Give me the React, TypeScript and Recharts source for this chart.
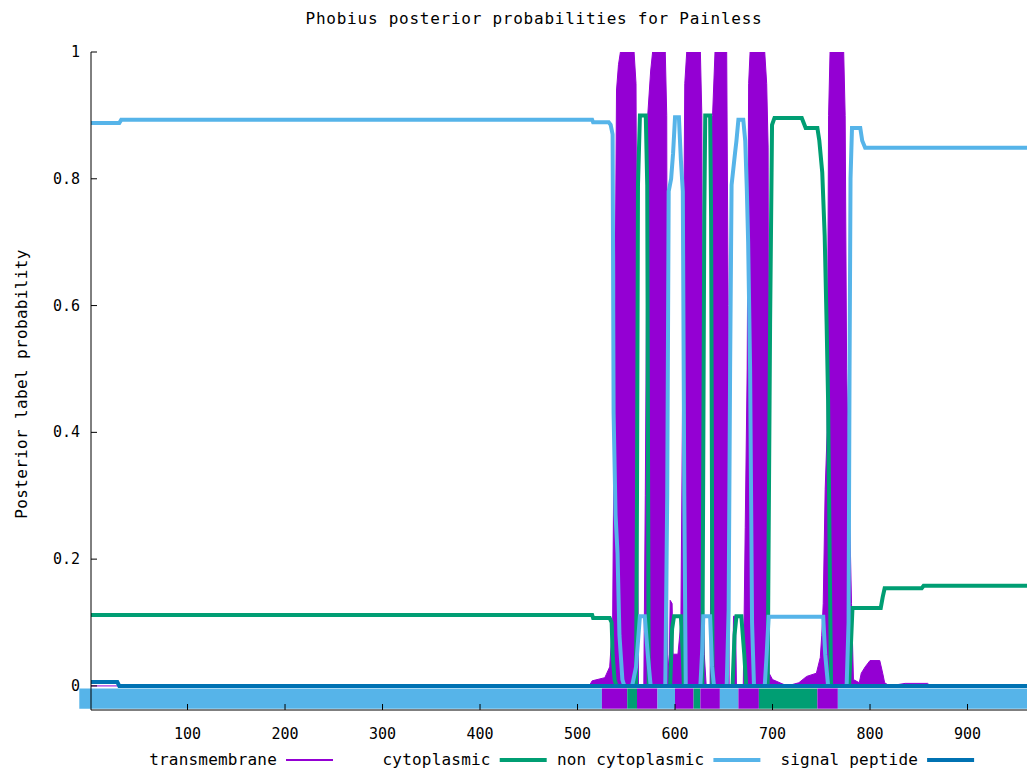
import React from 'react';
import { ComposedChart, Area, Line, XAxis, YAxis, ReferenceArea } from 'recharts';

type Pt = { x: number; y: number };
const p = (x: number, y: number): Pt => ({ x, y });

const seqLength = 961;
const xTicks = [100, 200, 300, 400, 500, 600, 700, 800, 900];
const yTicks = [0, 0.2, 0.4, 0.6, 0.8, 1];

// posterior probabilities, as (residue, probability)
const transmembrane: Pt[] = [
  p(1, 0), p(512, 0), p(515, 0.008), p(528, 0.013), p(533, 0.03), p(536, 0.1), p(538, 0.5), p(540, 0.94),
  p(542, 0.98), p(544, 1), p(558, 1), p(560, 0.95), p(561.5, 0.3), p(562.5, 0), p(568, 0), p(569.5, 0.3),
  p(572, 0.9), p(575, 0.97), p(577, 1), p(590, 1), p(591.5, 0.9), p(592.5, 0.05), p(594, 0.02), p(595, 0.135),
  p(597, 0.13), p(598, 0.05), p(603, 0.05), p(606, 0.1), p(608, 0.5), p(610, 0.95), p(612, 1), p(626, 1),
  p(627.5, 0.9), p(628.5, 0.2), p(630, 0.05), p(632, 0), p(636, 0), p(637.5, 0.5), p(638.5, 0.9), p(641, 1),
  p(653, 1), p(654.5, 0.6), p(655.5, 0), p(659, 0), p(660, 0.11), p(662, 0.11), p(663, 0), p(670, 0),
  p(672, 0.25), p(674, 0.5), p(675.5, 0.95), p(677, 1), p(692, 1), p(694, 0.95), p(695.5, 0.85), p(696.5, 0.02),
  p(700, 0.01), p(715, 0), p(727, 0.005), p(735, 0.015), p(745, 0.02), p(749, 0.045), p(750.5, 0.08),
  p(752, 0.13), p(754, 0.31), p(756, 0.4), p(757.5, 0.9), p(759, 1), p(773, 1), p(774.5, 0.9), p(776, 0.5),
  p(778, 0.35), p(781, 0.13), p(783, 0.01), p(789, 0.005), p(791, 0.02), p(795, 0.03), p(800, 0.04),
  p(810, 0.04), p(813, 0.02), p(815, 0.005), p(820, 0), p(836, 0.004), p(859, 0.004), p(862, 0), p(961, 0),
];

const cytoplasmic: Pt[] = [
  p(1, 0.112), p(515, 0.112), p(516, 0.107), p(533, 0.107), p(535, 0.1), p(536, 0.05), p(538, 0.01), p(540, 0),
  p(560, 0), p(561, 0.3), p(562, 0.79), p(564, 0.9), p(570, 0.9), p(571.5, 0.79), p(573, 0), p(595, 0),
  p(597, 0.09), p(599, 0.11), p(606, 0.11), p(608, 0.05), p(609, 0), p(628, 0), p(630, 0.74), p(631, 0.9),
  p(636, 0.9), p(637, 0.74), p(638.5, 0), p(659, 0), p(661, 0.08), p(663, 0.11), p(668, 0.11), p(671, 0.05),
  p(673, 0), p(695, 0), p(697.5, 0.57), p(699.5, 0.885), p(702, 0.896), p(730, 0.896), p(734, 0.88),
  p(746, 0.88), p(748, 0.86), p(751, 0.81), p(753.5, 0.71), p(755.5, 0.57), p(757, 0.45), p(760, 0),
  p(778.5, 0), p(780, 0.05), p(782, 0.123), p(811, 0.123), p(813, 0.14), p(815, 0.154), p(853, 0.154),
  p(855, 0.158), p(961, 0.158),
];

const nonCytoplasmic: Pt[] = [
  p(1, 0.888), p(30, 0.888), p(32, 0.893), p(515, 0.893), p(516, 0.889), p(532, 0.889), p(534, 0.885),
  p(536, 0.87), p(537, 0.43), p(539, 0.27), p(541, 0.21), p(543, 0.08), p(546, 0.01), p(548, 0), p(556, 0),
  p(560, 0.03), p(562, 0.07), p(564, 0.11), p(569, 0.11), p(572, 0.05), p(575, 0), p(590, 0), p(592, 0.3),
  p(593.5, 0.78), p(596, 0.8), p(598, 0.84), p(600, 0.897), p(604, 0.897), p(606, 0.83), p(608, 0.78),
  p(609.5, 0.3), p(611, 0), p(626, 0), p(628, 0.06), p(629, 0.11), p(636, 0.11), p(638, 0.03), p(640, 0),
  p(653, 0), p(655, 0.12), p(656.5, 0.5), p(658, 0.79), p(661.5, 0.84), p(663, 0.86), p(665, 0.893),
  p(670, 0.893), p(672, 0.86), p(673.6, 0.785), p(675, 0.7), p(677, 0.5), p(679, 0.1), p(681, 0), p(692, 0),
  p(694, 0.05), p(696, 0.109), p(752, 0.109), p(754, 0.05), p(757, 0), p(776, 0), p(778, 0.1), p(779, 0.5),
  p(780, 0.8), p(781.5, 0.88), p(790, 0.88), p(792, 0.86), p(795, 0.849), p(961, 0.849),
];

const signalPeptide: Pt[] = [p(1, 0.006), p(28, 0.006), p(30, 0), p(961, 0)];

// predicted topology strip under the curves
const topology = [
  { from: -11, to: 525, kind: 'non' },
  { from: 525, to: 551, kind: 'tm' },
  { from: 551, to: 561, kind: 'cyto' },
  { from: 561, to: 582, kind: 'tm' },
  { from: 582, to: 600, kind: 'non' },
  { from: 600, to: 619, kind: 'tm' },
  { from: 619, to: 626, kind: 'cyto' },
  { from: 626, to: 646, kind: 'tm' },
  { from: 646, to: 665, kind: 'non' },
  { from: 665, to: 686, kind: 'tm' },
  { from: 686, to: 746, kind: 'cyto' },
  { from: 746, to: 767, kind: 'tm' },
  { from: 767, to: 961, kind: 'non' },
];

const colors: Record<string, string> = {
  tm: '#9400d3',
  cyto: '#009e73',
  non: '#56b4e9',
  sp: '#0072b2',
};

const legendItems = [
  { label: 'transmembrane', color: colors.tm, width: 2 },
  { label: 'cytoplasmic', color: colors.cyto, width: 4 },
  { label: 'non cytoplasmic', color: colors.non, width: 4 },
  { label: 'signal peptide', color: colors.sp, width: 4 },
];

const FONT = "'DejaVu Sans Mono', monospace";

const BottomTick = (props: any) => {
  const { x, y, payload } = props;
  return (
    <g>
      <line x1={x} y1={y} x2={x} y2={y - 6} stroke="#000" />
      <text x={x} y={y + 29} textAnchor="middle" fontFamily={FONT} fontSize={15} fill="#000">
        {payload.value}
      </text>
    </g>
  );
};

const TopTick = (props: any) => {
  const { x, y } = props;
  return <line x1={x} y1={y} x2={x} y2={y + 6} stroke="#000" />;
};

const LeftTick = (props: any) => {
  const { x, y, payload } = props;
  return (
    <g>
      <line x1={x} y1={y} x2={x + 6} y2={y} stroke="#000" />
      <text x={x - 11} y={y + 5} textAnchor="end" fontFamily={FONT} fontSize={15} fill="#000">
        {payload.value}
      </text>
    </g>
  );
};

const RightTick = (props: any) => {
  const { x, y } = props;
  return <line x1={x} y1={y} x2={x - 6} y2={y} stroke="#000" />;
};

export default function App() {
  return (
    <div style={{ position: 'absolute', left: 0, top: 0, width: 1029, height: 771, background: '#fff' }}>
      <ComposedChart width={1029} height={771} margin={{ top: 52, right: 2, bottom: 31, left: 31 }}>
        <XAxis
          xAxisId="bottom"
          type="number"
          dataKey="x"
          domain={[1, seqLength]}
          ticks={xTicks}
          allowDataOverflow
          height={30}
          tickSize={0}
          tickMargin={0}
          axisLine={{ stroke: '#000' }}
          tickLine={false}
          tick={BottomTick}
        />
        <XAxis
          xAxisId="top"
          orientation="top"
          type="number"
          dataKey="x"
          domain={[1, seqLength]}
          ticks={xTicks}
          allowDataOverflow
          height={0}
          tickSize={0}
          tickMargin={0}
          axisLine={{ stroke: '#000' }}
          tickLine={false}
          tick={TopTick}
        />
        <YAxis
          yAxisId="left"
          type="number"
          domain={[-0.038, 1]}
          ticks={yTicks}
          allowDataOverflow
          width={60}
          tickSize={0}
          tickMargin={0}
          axisLine={{ stroke: '#000' }}
          tickLine={false}
          tick={LeftTick}
        />
        <YAxis
          yAxisId="right"
          orientation="right"
          type="number"
          domain={[-0.038, 1]}
          ticks={yTicks}
          allowDataOverflow
          width={0}
          tickSize={0}
          tickMargin={0}
          axisLine={{ stroke: '#000' }}
          tickLine={false}
          tick={RightTick}
        />
        <Area
          xAxisId="bottom"
          yAxisId="left"
          data={transmembrane}
          dataKey="y"
          type="linear"
          baseValue={0}
          stroke={colors.tm}
          strokeWidth={1}
          fill={colors.tm}
          fillOpacity={1}
          dot={false}
          activeDot={false}
          isAnimationActive={false}
        />
        <Line
          xAxisId="bottom"
          yAxisId="left"
          data={cytoplasmic}
          dataKey="y"
          type="linear"
          stroke={colors.cyto}
          strokeWidth={4}
          dot={false}
          activeDot={false}
          isAnimationActive={false}
        />
        <Line
          xAxisId="bottom"
          yAxisId="left"
          data={nonCytoplasmic}
          dataKey="y"
          type="linear"
          stroke={colors.non}
          strokeWidth={4}
          dot={false}
          activeDot={false}
          isAnimationActive={false}
        />
        <Line
          xAxisId="bottom"
          yAxisId="left"
          data={signalPeptide}
          dataKey="y"
          type="linear"
          stroke={colors.sp}
          strokeWidth={4}
          dot={false}
          activeDot={false}
          isAnimationActive={false}
        />
        {topology.map((seg, i) => (
          <ReferenceArea
            key={i}
            xAxisId="bottom"
            yAxisId="left"
            x1={seg.from}
            x2={seg.to}
            y1={-0.036}
            y2={-0.004}
            fill={colors[seg.kind]}
            fillOpacity={1}
            stroke="none"
            ifOverflow="visible"
          />
        ))}
      </ComposedChart>

      <div
        style={{
          position: 'absolute',
          left: 534,
          top: 9,
          transform: 'translateX(-50%)',
          whiteSpace: 'nowrap',
          fontFamily: FONT,
          fontSize: 16,
          lineHeight: '20px',
          letterSpacing: 0.75,
          color: '#000',
        }}
      >
        Phobius posterior probabilities for Painless
      </div>
      <div
        style={{
          position: 'absolute',
          left: 22,
          top: 384,
          transform: 'translate(-50%, -50%) rotate(-90deg)',
          whiteSpace: 'nowrap',
          fontFamily: FONT,
          fontSize: 16,
          lineHeight: '20px',
          letterSpacing: 0.35,
          color: '#000',
        }}
      >
        Posterior label probability
      </div>
      <svg style={{ position: 'absolute', left: 0, top: 745 }} width={1029} height={30}>
        {legendItems.map((item, i) => {
          const right = 277 + 213.7 * i;
          return (
            <g key={item.label}>
              <text x={right} y={20} textAnchor="end" fontFamily={FONT} fontSize={16} letterSpacing={0.2} fill="#000">
                {item.label}
              </text>
              <line x1={right + 9} y1={15} x2={right + 56} y2={15} stroke={item.color} strokeWidth={item.width} />
            </g>
          );
        })}
      </svg>
    </div>
  );
}
